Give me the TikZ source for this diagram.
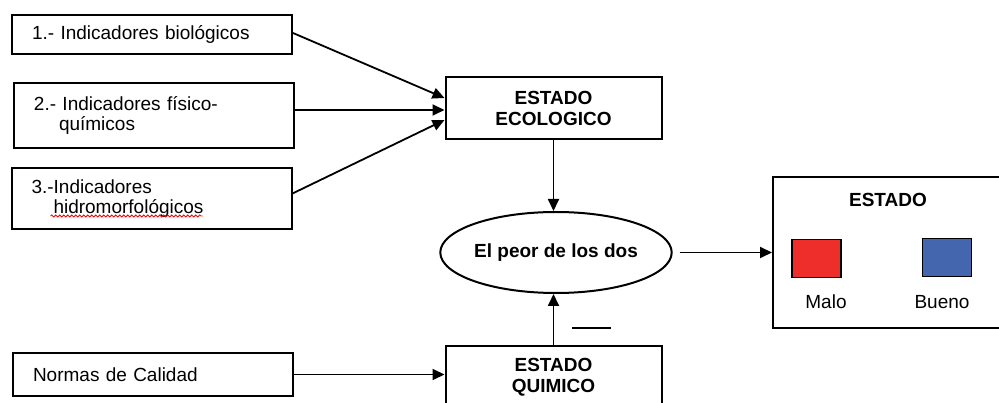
\documentclass[tikz,border=0pt]{standalone}
\usepackage{fontspec}
\setmainfont{Liberation Sans}
\usetikzlibrary{shapes.geometric,arrows.meta,calc,decorations.pathmorphing}
\definecolor{malored}{RGB}{238,46,43}
\definecolor{buenoblue}{RGB}{68,102,175}

\begin{document}
\begin{tikzpicture}[x=1pt,y=-1pt,
	txt/.style={font=\fontsize{19}{20}\selectfont},
	bold/.style={font=\fontsize{19}{21}\selectfont\bfseries, align=center},
	leftbox/.style={draw, line width=2pt, rectangle, txt, minimum width=280pt, text width=240pt, inner xsep=20pt, inner ysep=0pt, align=left},
	estbox/.style={draw, line width=2pt, rectangle, bold, minimum width=216pt, minimum height=62pt, inner sep=0pt},
	arr/.style={line width=1.8pt, -{Triangle[length=12pt,width=11pt]}},
	swatch/.style={draw, line width=1.6pt, minimum width=49pt, minimum height=38pt, inner sep=0pt}]
	\useasboundingbox (0,0) rectangle (999,403);
	% indicadores
	\node[leftbox, minimum height=39pt] (bio) at (152,34.5) {1.- Indicadores biológicos};
	\node[leftbox, minimum height=65pt] (fis) at (154,115.5) {2.- Indicadores físico-\\\hspace*{25pt}químicos};
	\node[leftbox, minimum height=61pt] (hidro) at (151.5,198.5) {3.-Indicadores\\\hspace*{22pt}hidromorfológicos};
	\node[leftbox, minimum height=43pt] (norm) at (153,374.5) {Normas de Calidad};
	\draw[red, line width=0.8pt, decorate, decoration={snake, amplitude=1pt, segment length=4pt}] ($(hidro.south west)+(40,-14)$) -- ++(152,0);
	% estados
	\node[estbox] (eco) at (553.5,108) {ESTADO\\ECOLOGICO};
	\node[estbox] (quim) at (553.5,377) {ESTADO\\QUIMICO};
	\node[draw, line width=2pt, ellipse, bold, minimum width=208pt, minimum height=81pt, inner sep=0pt] (peor) at (556,252.5) {El peor de los dos};
	\node[draw, line width=2pt, rectangle, minimum width=230pt, minimum height=151pt] (estado) at (888,252.5) {};
	\node[bold] (titulo) at (888,200) {ESTADO};
	\node[swatch, fill=malored] (malo) at (816.5,258.5) {};
	\node[swatch, fill=buenoblue] (bueno) at (947,257.5) {};
	\node[txt] (malotxt) at (826,302) {Malo};
	\node[txt] (buenotxt) at (942,302) {Bueno};
	% flechas
	\draw[arr] ($(bio.east)+(0,-1.5)$) -- ($(eco.west)+(0,-10)$);
	\draw[arr] ($(fis.east)+(0,-5.5)$) -- ($(eco.west)+(0,2)$);
	\draw[arr] ($(hidro.east)+(0,-5)$) -- ($(eco.west)+(0,12)$);
	\draw[arr] (eco.south) -- (eco.south |- peor.north);
	\draw[arr] (quim.north) -- (quim.north |- peor.south);
	\draw[arr, shorten <=7pt] (peor.east) -- (estado.west);
	\draw[arr] (norm.east) -- (norm.east -| quim.west);
	\draw[line width=1.8pt] (572,328) -- (611,328);
\end{tikzpicture}
\end{document}
